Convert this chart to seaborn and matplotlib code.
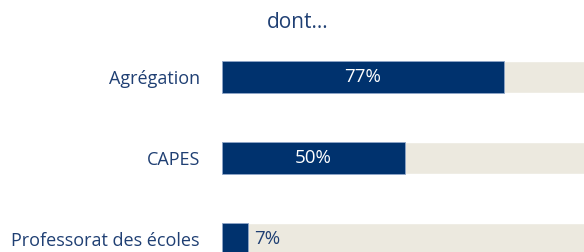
import matplotlib
matplotlib.use("Agg")
import matplotlib.pyplot as plt
import seaborn as sns
import pandas as pd

# Data
categories = ["Agrégation", "CAPES", "Professorat des écoles"]
values = [77, 50, 7]
totals = [100, 100, 100]

NAVY = "#00326E"
BEIGE = "#ECE9DF"
TEXT = "#1F3F73"

sns.set_theme(style="white")
plt.rcParams["font.family"] = ["Open Sans", "DejaVu Sans"]

df = pd.DataFrame({"cat": categories, "val": values, "tot": totals})

fig = plt.figure(figsize=(5.84, 2.52), dpi=100)
ax = fig.add_axes([222 / 584, 0, 1 - 222 / 584, 1])

sns.barplot(data=df, x="tot", y="cat", color=BEIGE, width=0.395, ax=ax,
            orient="h", saturation=1)
sns.barplot(data=df, x="val", y="cat", color=NAVY, width=0.395, ax=ax,
            orient="h", saturation=1, edgecolor="#8FA6C8", linewidth=0.6)

ax.set_xlim(0, 98.9)
ax.set_ylim(2 + 13 / 81, -77 / 81)
ax.set_xlabel("")
ax.set_ylabel("")
ax.set_xticks([])
ax.tick_params(axis="y", length=0, pad=16)
for lab in ax.get_yticklabels():
    lab.set_color(TEXT)
    lab.set_fontsize(13)
sns.despine(ax=ax, left=True, bottom=True, top=True, right=True)

for i, v in enumerate(values):
    if v >= 20:
        ax.text(v / 2, i, f"{v}%", ha="center", va="center", color="white", fontsize=13.5)
    else:
        ax.text(v + 1.7, i, f"{v}%", ha="left", va="center", color=TEXT, fontsize=13.5)

fig.text(298 / 584, 1 - 22 / 252, "dont...", ha="center", va="center", color=TEXT, fontsize=15)

fig.savefig("out.png", dpi=100)
